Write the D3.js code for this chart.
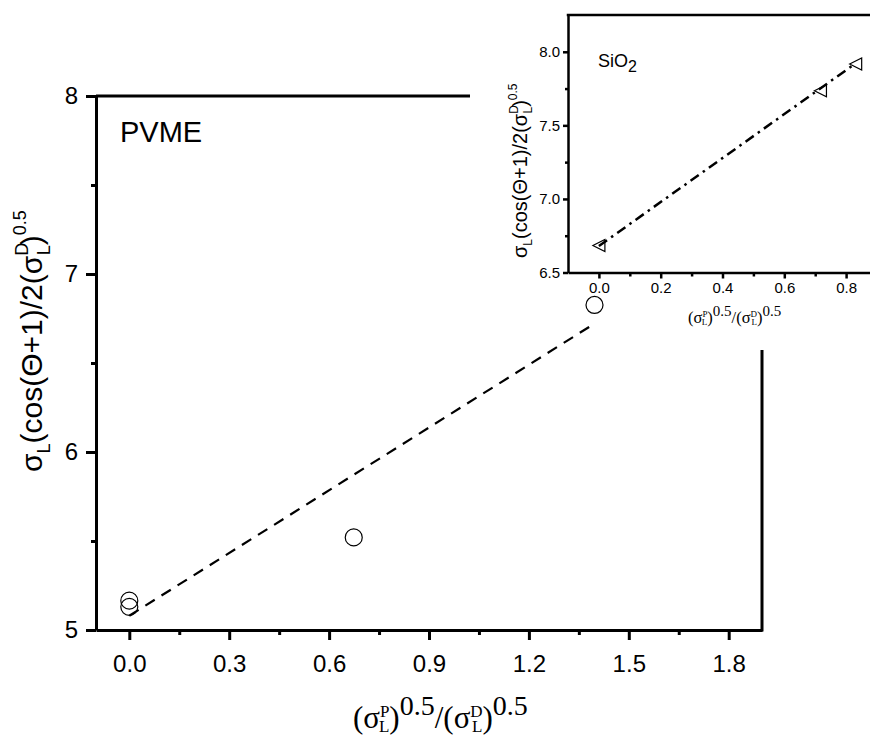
<!DOCTYPE html>
<html><head><meta charset="utf-8">
<script src="https://cdn.jsdelivr.net/npm/d3@7"></script>
<style>body{margin:0;background:#fff}</style>
</head><body>
<svg id="c" width="870" height="738"></svg>
<script>
// ---- data ----
const mainX = [0.0, 0.0, 0.674, 1.397];
const mainY = [5.165, 5.13, 5.52, 6.826];
const mainFitX = [0.0, 1.40];
const mainFitY = [5.08, 6.725];
const mainXTicks = [0, 0.3, 0.6, 0.9, 1.2, 1.5, 1.8];
const mainXMinor = [0.15, 0.45, 0.75, 1.05, 1.35, 1.65];
const mainYTicks = [5, 6, 7, 8];
const mainYMinor = [5.5, 6.5, 7.5];
const insetX = [0.0, 0.717, 0.831];
const insetY = [6.683, 7.735, 7.917];
const insetFitX = [0.0, 0.83];
const insetFitY = [6.68, 7.92];
const insetXTicks = [0, 0.2, 0.4, 0.6, 0.8];
const insetXMinor = [0.1, 0.3, 0.5, 0.7];
const insetYTicks = [6.5, 7.0, 7.5, 8.0];
const insetYMinor = [6.75, 7.25, 7.75];
const mainLabel = "PVME";
const insetLabel = ["SiO", "2"];

const SANS = "'Liberation Sans', Arial, sans-serif";
const SERIF = "'Liberation Serif', 'Times New Roman', serif";
const svg = d3.select("#c");

// ---- main plot ----
const x = d3.scaleLinear().domain([-0.1, 1.9]).range([96, 762]);
const y = d3.scaleLinear().domain([5, 8]).range([630, 96]);

function styleAxis(g, w, fs) {
  g.selectAll("path.domain").attr("stroke-width", w).attr("stroke", "#000");
  g.selectAll(".tick line").attr("stroke-width", w).attr("stroke", "#000");
  g.selectAll("text").attr("font-family", SANS).attr("font-size", fs).attr("fill", "#000");
}

const gx = svg.append("g").attr("transform", `translate(0,${y(5)})`)
  .call(d3.axisBottom(x).tickValues(mainXTicks).tickSize(10).tickSizeOuter(0).tickPadding(15).tickFormat(d3.format(".1f")));
styleAxis(gx, 3, 24);
svg.append("g").attr("transform", `translate(0,${y(5)})`)
  .call(d3.axisBottom(x).tickValues(mainXMinor).tickSize(5).tickSizeOuter(0).tickFormat(""))
  .call(g => { g.select(".domain").remove(); g.selectAll("line").attr("stroke-width", 3); });

const gy = svg.append("g").attr("transform", `translate(${x(-0.1)},0)`)
  .call(d3.axisLeft(y).tickValues(mainYTicks).tickSize(10).tickSizeOuter(0).tickPadding(8).tickFormat(d3.format("d")));
styleAxis(gy, 3, 24);
svg.append("g").attr("transform", `translate(${x(-0.1)},0)`)
  .call(d3.axisLeft(y).tickValues(mainYMinor).tickSize(5).tickSizeOuter(0).tickFormat(""))
  .call(g => { g.select(".domain").remove(); g.selectAll("line").attr("stroke-width", 3); });

// partial frame (the inset hides the rest)
svg.append("line").attr("x1", x(-0.1)).attr("x2", 470).attr("y1", y(8)).attr("y2", y(8))
  .attr("stroke", "#000").attr("stroke-width", 3);
svg.append("line").attr("x1", x(1.9)).attr("x2", x(1.9)).attr("y1", 350).attr("y2", y(5) + 1.5)
  .attr("stroke", "#000").attr("stroke-width", 3);

// fit line
svg.append("path")
  .attr("d", d3.line()(mainFitX.map((v, i) => [x(v), y(mainFitY[i])])))
  .attr("fill", "none").attr("stroke", "#000").attr("stroke-width", 2.2).attr("stroke-dasharray", "11,8");

// points
svg.selectAll("circle.m").data(mainX).join("circle").attr("class", "m")
  .attr("cx", d => x(d)).attr("cy", (d, i) => y(mainY[i])).attr("r", 8.5)
  .attr("fill", "none").attr("stroke", "#000").attr("stroke-width", 1.2);

svg.append("text").attr("x", 120).attr("y", 142).attr("font-family", SANS).attr("font-size", 29).text(mainLabel);

// y label (sans, rotated)
function yLabel(sel, tx, ty, big, small, subOff, supOff, sup0) {
  const t = sel.append("text").attr("transform", `translate(${tx},${ty}) rotate(-90)`)
    .attr("font-family", SANS).attr("font-size", big).attr("fill", "#000");
  t.append("tspan").text("σ");
  t.append("tspan").attr("font-size", small).attr("dy", subOff).text("L");
  t.append("tspan").attr("dy", -subOff).text("(cos(Θ+1)/2(σ");
  t.append("tspan").attr("font-size", small).attr("dy", -supOff).text("D");
  t.append("tspan").attr("font-size", small).attr("dx", -small * 0.7).attr("dy", supOff + subOff).text("L");
  t.append("tspan").attr("dy", -subOff).text(")");
  t.append("tspan").attr("font-size", small).attr("dy", -sup0).text("0.5");
}
yLabel(svg, 42, 472, 30, 18, 8, 14, 16);

// x label (serif)
function ratioLabel(sel, x0, y0, big, small, supFs, sup, subOff, supOff) {
  const t = sel.append("text").attr("x", x0).attr("y", y0)
    .attr("font-family", SERIF).attr("font-size", big).attr("fill", "#000");
  const part = (letter) => {
    t.append("tspan").text("(σ");
    t.append("tspan").attr("font-size", small).attr("dy", -supOff).text(letter);
    t.append("tspan").attr("font-size", small).attr("dx", -small * 0.62).attr("dy", supOff + subOff).text("L");
    t.append("tspan").attr("dy", -subOff).text(")");
    t.append("tspan").attr("font-size", supFs).attr("dy", -sup).text("0.5");
  };
  part("P");
  t.append("tspan").attr("dy", sup).text("/");
  part("D");
}
ratioLabel(svg, 353, 728, 31, 17, 28, 13, 4, 11);

// ---- inset ----
const xi = d3.scaleLinear().domain([-0.1, 0.9]).range([568, 877]);
const yi = d3.scaleLinear().domain([6.5, 8.25]).range([272.5, 15]);

const gxi = svg.append("g").attr("transform", `translate(0,${yi(6.5)})`)
  .call(d3.axisBottom(xi).tickValues(insetXTicks).tickSize(6).tickSizeOuter(0).tickPadding(4).tickFormat(d3.format(".1f")));
styleAxis(gxi, 2.5, 15);
svg.append("g").attr("transform", `translate(0,${yi(6.5)})`)
  .call(d3.axisBottom(xi).tickValues(insetXMinor).tickSize(4).tickSizeOuter(0).tickFormat(""))
  .call(g => { g.select(".domain").remove(); g.selectAll("line").attr("stroke-width", 2.5); });

const gyi = svg.append("g").attr("transform", `translate(${xi(-0.1)},0)`)
  .call(d3.axisLeft(yi).tickValues(insetYTicks).tickSize(5).tickSizeOuter(0).tickPadding(3).tickFormat(d3.format(".1f")));
styleAxis(gyi, 2.5, 15);
svg.append("g").attr("transform", `translate(${xi(-0.1)},0)`)
  .call(d3.axisLeft(yi).tickValues(insetYMinor).tickSize(3).tickSizeOuter(0).tickFormat(""))
  .call(g => { g.select(".domain").remove(); g.selectAll("line").attr("stroke-width", 2.5); });

svg.append("line").attr("x1", xi(-0.1) - 1.25).attr("x2", 870).attr("y1", yi(8.25)).attr("y2", yi(8.25))
  .attr("stroke", "#000").attr("stroke-width", 2.5);

svg.append("path")
  .attr("d", d3.line()(insetFitX.map((v, i) => [xi(v), yi(insetFitY[i])])))
  .attr("fill", "none").attr("stroke", "#000").attr("stroke-width", 2.5).attr("stroke-dasharray", "10,5,2.5,5");

const tri = 6;
svg.selectAll("path.tri").data(insetX).join("path").attr("class", "tri")
  .attr("d", (d, i) => {
    const cx = xi(d), cy = yi(insetY[i]);
    return `M${cx - tri},${cy} L${cx + tri},${cy - tri} L${cx + tri},${cy + tri} Z`;
  })
  .attr("fill", "none").attr("stroke", "#000").attr("stroke-width", 1.2);

{
  const t = svg.append("text").attr("x", 598).attr("y", 67).attr("font-family", SANS).attr("font-size", 18);
  t.append("tspan").text(insetLabel[0]);
  t.append("tspan").attr("font-size", 16).attr("dy", 5).text(insetLabel[1]);
}

yLabel(svg, 527, 258, 20, 12, 5, 9, 10);

ratioLabel(svg, 688, 323, 16.5, 9, 15, 7, 2, 6);
</script>
</body></html>
